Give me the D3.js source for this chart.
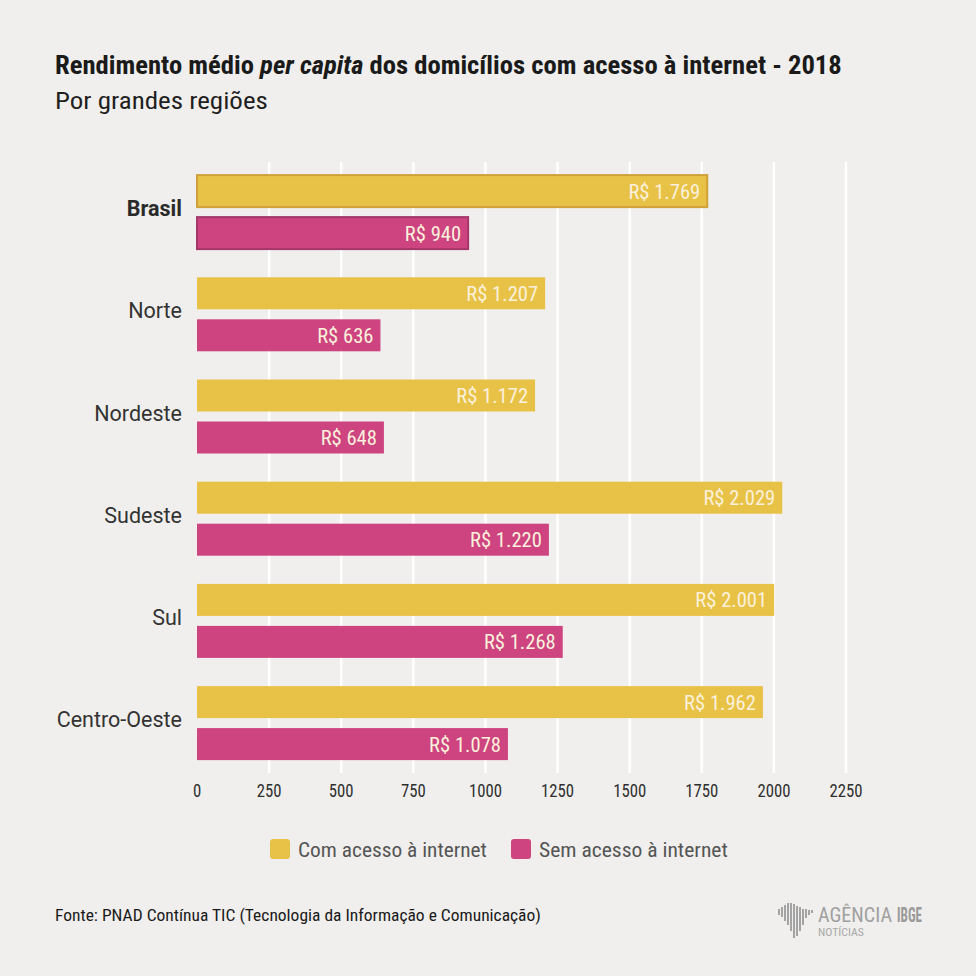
<!DOCTYPE html>
<html><head><meta charset="utf-8">
<script src="https://cdn.jsdelivr.net/npm/d3@7"></script>
<style>
html,body{margin:0;padding:0;background:#f0efed;}
svg{display:block;}
text{font-family:"Roboto Condensed","Roboto","Liberation Sans",sans-serif;}
</style></head>
<body>
<script>
const regions = ["Brasil","Norte","Nordeste","Sudeste","Sul","Centro-Oeste"];
const comAcesso = [1769,1207,1172,2029,2001,1962];
const semAcesso = [940,636,648,1220,1268,1078];
const seriesNames = ["Com acesso à internet","Sem acesso à internet"];
const ticks = [0,250,500,750,1000,1250,1500,1750,2000,2250];
const title = ["Rendimento médio ","per capita"," dos domicílios com acesso à internet - 2018"];
const subtitle = "Por grandes regiões";
const source = "Fonte: PNAD Contínua TIC (Tecnologia da Informação e Comunicação)";

const W=976,H=976;
const colors=["#e8c247","#cd4481"];
const strokeBrasil=["#d0a13a","#a5376a"];
const svg=d3.select("body").append("svg").attr("width",W).attr("height",H);
svg.append("rect").attr("width",W).attr("height",H).attr("fill","#f0efed");

const x=d3.scaleLinear().domain([0,2250]).range([197,846]);
const y0=d3.scaleBand().domain(regions).range([161,774.2]);
const y1=d3.scaleBand().domain([0,1]).range([14.1,88.1]).paddingInner(0.238).paddingOuter(0);

function txt(g,px,py,s,o){
  const t=g.append("text").attr("transform",`translate(${px},${py}) scale(${o.sx||1},1)`)
   .attr("font-size",o.size).attr("font-weight",o.weight||400).attr("fill",o.fill||"#2b2b2b")
   .attr("text-anchor",o.anchor||"start").text(s);
  if(o.family) t.style("font-family",o.family);
  if(o.fit){const w=t.node().getComputedTextLength();t.attr("transform",`translate(${px},${py}) scale(${o.fit/w},1)`);}
  return t;
}

// title
const tt=svg.append("text").attr("font-size",25).attr("font-weight",700).attr("fill","#1a1a1a");
tt.append("tspan").text(title[0]);
tt.append("tspan").attr("font-style","italic").text(title[1]);
tt.append("tspan").text(title[2]);
{const w=tt.node().getComputedTextLength();tt.attr("transform",`translate(55,74) scale(${787/w},1)`);}
txt(svg,55,109,subtitle,{size:23,fill:"#1f1f1f",fit:213});

// grid
svg.append("g").selectAll("line").data(ticks.slice(1)).join("line")
 .attr("x1",d=>x(d)).attr("x2",d=>x(d)).attr("y1",162).attr("y2",773)
 .attr("stroke","#ffffff").attr("stroke-width",2.5);

// axis labels
const ax=svg.append("g");
ticks.forEach(d=>txt(ax,x(d),797,String(d),{size:19,anchor:"middle",sx:0.88,fill:"#2f2f2f"}));

// bars
const data=regions.map((r,i)=>({r,i,v:[comAcesso[i],semAcesso[i]]}));
const gr=svg.append("g");
data.forEach(d=>{
  const g=gr.append("g").attr("transform",`translate(0,${y0(d.r)})`);
  d.v.forEach((v,k)=>{
    const by=y1(k),bh=y1.bandwidth();
    g.append("rect").attr("x",x(0)).attr("y",by).attr("width",x(v)-x(0)).attr("height",bh)
     .attr("fill",colors[k])
     .attr("stroke",d.i===0?strokeBrasil[k]:"none").attr("stroke-width",d.i===0?2:0);
    const lab="R$ "+d3.format(",")(v).replace(/,/g,".");
    txt(g,x(v)-7,by+bh/2+7.5,lab,{size:21,anchor:"end",sx:0.98,fill:"#fbf1dc"});
  });
  txt(svg,182,y0(d.r)+y0.bandwidth()/2+4,d.r,{size:21.5,anchor:"end",weight:d.i===0?700:400,
      family:"Roboto, sans-serif",fill:d.i===0?"#2a2a2a":"#333"});
});

// legend
const lg=svg.append("g");
const legX=[270,511];
seriesNames.forEach((s,k)=>{
  lg.append("rect").attr("x",legX[k]).attr("y",839).attr("width",20).attr("height",20).attr("rx",3).attr("fill",colors[k]);
  txt(lg,legX[k]+28,857,s,{size:21,fill:"#555",fit:189});
});

// source
txt(svg,55,921,source,{size:16,fill:"#1a1a1a",fit:486});

// logo
const lo=svg.append("g");
const lb=[[0,6,0],[3,10,-2],[6,16,-4],[9,22,-6],[12,28,-6],[15,34,-5],[18,30,-3],[21,24,-2],[24,16,0],[27,9,0],[30,5,1],[33,3,1]];
lb.forEach(b=>lo.append("rect").attr("x",778+b[0]).attr("y",909+b[2]).attr("width",2).attr("height",b[1]).attr("fill","#a3a3a3"));
txt(lo,818,922,"AGÊNCIA",{size:20,fill:"#a0a0a0",fit:74});
txt(lo,897,922,"IBGE",{size:20,weight:700,fill:"#9a9a9a",fit:25});
txt(lo,818,936,"NOTÍCIAS",{size:11,fill:"#a8a8a8",fit:46});
</script>
</body></html>
